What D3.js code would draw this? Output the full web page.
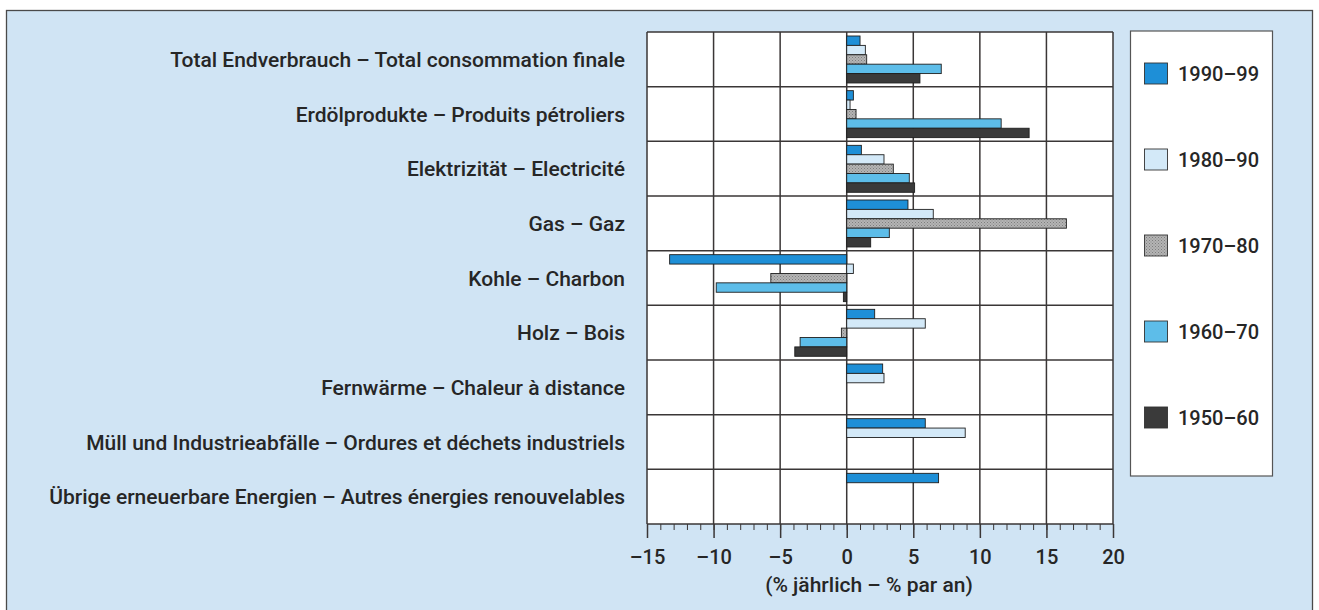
<!DOCTYPE html>
<html>
<head>
<meta charset="utf-8">
<script src="https://cdn.jsdelivr.net/npm/d3@7"></script>
<style>
  html, body { margin: 0; padding: 0; background: #ffffff; }
  svg { display: block; }
  text { font-family: Roboto, "Open Sans", "Noto Sans", sans-serif; fill: #262626; font-weight: 500; }
</style>
</head>
<body>
<svg id="chart" width="1319" height="610"></svg>
<script>
// ---------------- DATA ----------------
const categories = [
  "Total Endverbrauch – Total consommation finale",
  "Erdölprodukte – Produits pétroliers",
  "Elektrizität – Electricité",
  "Gas – Gaz",
  "Kohle – Charbon",
  "Holz – Bois",
  "Fernwärme – Chaleur à distance",
  "Müll und Industrieabfälle – Ordures et déchets industriels",
  "Übrige erneuerbare Energien – Autres énergies renouvelables"
];
const seriesNames = ["1990–99", "1980–90", "1970–80", "1960–70", "1950–60"];
const s1990 = [1.0, 0.5, 1.1, 4.6, -13.3, 2.1, 2.7, 5.9, 6.9];
const s1980 = [1.4, 0.25, 2.8, 6.5, 0.5, 5.9, 2.8, 8.9, null];
const s1970 = [1.5, 0.7, 3.5, 16.5, -5.7, -0.4, null, null, null];
const s1960 = [7.1, 11.6, 4.7, 3.2, -9.8, -3.5, null, null, null];
const s1950 = [5.5, 13.7, 5.1, 1.8, -0.25, -3.9, null, null, null];
const seriesValues = [s1990, s1980, s1970, s1960, s1950];
const xDomain = [-15, 20];
const majorTicks = [-15, -10, -5, 0, 5, 10, 15, 20];
const axisTitle = "(% jährlich – % par an)";

// ---------------- LAYOUT ----------------
const svg = d3.select("#chart");
const plot = { left: 647, right: 1113, top: 32, bottom: 524 };
const colors = ["#1e8fd7", "#d3e9f8", "url(#dots)", "#5dbde9", "#3a3a3a"];

const defs = svg.append("defs");
const pat = defs.append("pattern").attr("id", "dots")
  .attr("width", 3).attr("height", 3).attr("patternUnits", "userSpaceOnUse");
pat.append("rect").attr("width", 3).attr("height", 3).attr("fill", "#b4b4b4");
pat.append("rect").attr("x", 0).attr("y", 0).attr("width", 1).attr("height", 1).attr("fill", "#7e7e7e");
pat.append("rect").attr("x", 1.5).attr("y", 1.5).attr("width", 1).attr("height", 1).attr("fill", "#8a8a8a");

// outer frame
svg.append("rect").attr("x", 6.5).attr("y", 10.5).attr("width", 1306).attr("height", 620)
  .attr("fill", "#d0e4f4").attr("stroke", "#4a4a4a").attr("stroke-width", 1.3);

const x = d3.scaleLinear().domain(xDomain).range([plot.left, plot.right]);
const y = d3.scaleBand().domain(categories).range([plot.top, plot.bottom]).paddingInner(0).paddingOuter(0);
const rowH = y.bandwidth();
const yInner = d3.scaleBand().domain(seriesNames).range([4, rowH - 3.7]).padding(0);

// plot background
svg.append("rect").attr("x", plot.left).attr("y", plot.top)
  .attr("width", plot.right - plot.left).attr("height", plot.bottom - plot.top)
  .attr("fill", "#ffffff");

// grid
const grid = svg.append("g").attr("stroke", "#3a3636").attr("stroke-width", 1.5);
majorTicks.forEach(t => {
  grid.append("line").attr("x1", x(t)).attr("x2", x(t))
    .attr("y1", plot.top).attr("y2", plot.bottom);
});
categories.forEach((c) => {
  grid.append("line").attr("x1", plot.left).attr("x2", plot.right)
    .attr("y1", y(c)).attr("y2", y(c));
});
grid.append("line").attr("x1", plot.left).attr("x2", plot.right)
  .attr("y1", plot.bottom).attr("y2", plot.bottom);

// bars
seriesNames.forEach((s, si) => {
  const data = seriesValues[si].map((v, i) => ({ v, c: categories[i] })).filter(d => d.v !== null);
  svg.append("g").selectAll("rect").data(data).join("rect")
    .attr("x", d => x(Math.min(0, d.v)))
    .attr("width", d => Math.abs(x(d.v) - x(0)))
    .attr("y", d => y(d.c) + yInner(s))
    .attr("height", yInner.bandwidth())
    .attr("fill", colors[si])
    .attr("stroke", "#1f1f1f").attr("stroke-width", 0.9);
});

// x axis (minor + major ticks)
const minorAxis = d3.axisBottom(x).tickValues(d3.range(xDomain[0], xDomain[1] + 1, 1))
  .tickSize(6).tickFormat("");
const gMinor = svg.append("g").attr("transform", `translate(0,${plot.bottom})`).call(minorAxis);
gMinor.select(".domain").remove();
gMinor.selectAll("line").attr("stroke", "#3a3636").attr("stroke-width", 1);

const fmt = d => d < 0 ? "–" + Math.abs(d) : String(d);
const majorAxis = d3.axisBottom(x).tickValues(majorTicks).tickSize(14).tickFormat(fmt).tickPadding(12);
const gMajor = svg.append("g").attr("transform", `translate(0,${plot.bottom})`).call(majorAxis);
gMajor.select(".domain").remove();
gMajor.selectAll("line").attr("stroke", "#3a3636").attr("stroke-width", 1.5);
gMajor.selectAll("text").attr("font-size", 20).attr("fill", "#262626")
  .attr("font-family", "Roboto, 'Open Sans', sans-serif").attr("font-weight", 500);

svg.append("text").attr("x", 869).attr("y", 592).attr("text-anchor", "middle")
  .attr("font-size", 21).text(axisTitle);

// category labels
const labelG = svg.append("g");
const labels = labelG.selectAll("text").data(categories).join("text")
  .attr("x", 0)
  .attr("y", d => y(d) + rowH / 2)
  .attr("dy", "0.36em")
  .attr("text-anchor", "end")
  .attr("font-size", 21)
  .text(d => d);
let maxW = 0;
labels.each(function () { maxW = Math.max(maxW, this.getComputedTextLength()); });
const k = Math.min(1, 577 / maxW);
labelG.attr("transform", `translate(625,0) scale(${k},1)`);

// legend
const lg = svg.append("g");
lg.append("rect").attr("x", 1130.5).attr("y", 31).attr("width", 142).attr("height", 445)
  .attr("fill", "#ffffff").attr("stroke", "#555").attr("stroke-width", 1.2);
seriesNames.forEach((s, i) => {
  const cy = 73.5 + i * 86;
  lg.append("rect").attr("x", 1144.5).attr("y", cy - 10.5).attr("width", 23).attr("height", 21)
    .attr("fill", colors[i]).attr("stroke", "#333").attr("stroke-width", 0.9);
  lg.append("text").attr("x", 1178).attr("y", cy).attr("dy", "0.36em")
    .attr("font-size", 20).text(s);
});
</script>
</body>
</html>
